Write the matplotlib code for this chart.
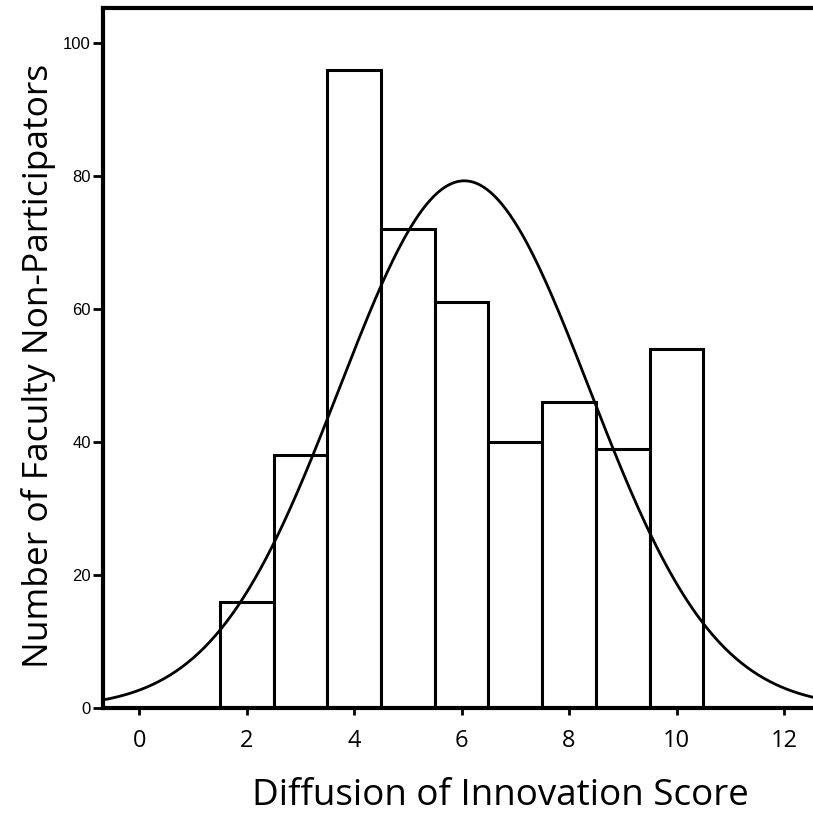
import numpy as np
import matplotlib
matplotlib.use('Agg')
import matplotlib.pyplot as plt


# histogram of scores (bin centres and counts)
scores = [2, 3, 4, 5, 6, 7, 8, 9, 10]
counts = [16, 38, 96, 72, 61, 40, 46, 39, 54]

x_ticks = [0, 2, 4, 6, 8, 10, 12]
y_ticks = [0, 20, 40, 60, 80, 100]

LABEL_FONT = ['Open Sans', 'DejaVu Sans']
TICK_FONT = ['Liberation Sans Narrow', 'Liberation Sans', 'DejaVu Sans']


def normal_fit(scores, counts):
    s = np.array(scores, dtype=float)
    c = np.array(counts, dtype=float)
    n = c.sum()
    mu = (s * c).sum() / n
    sd = np.sqrt((c * (s - mu) ** 2).sum() / (n - 1))
    return n, mu, sd


fig = plt.figure(figsize=(8.13, 8.18), dpi=100)
ax = fig.add_axes([0.127, 0.1345, 0.873, 0.856])

ax.bar(scores, counts, width=1.0, facecolor='white', edgecolor='black',
       linewidth=2.2, zorder=2)

n, mu, sd = normal_fit(scores, counts)
xs = np.linspace(-1, 13, 400)
ys = n * np.exp(-0.5 * ((xs - mu) / sd) ** 2) / (sd * np.sqrt(2 * np.pi))
ax.plot(xs, ys, color='black', linewidth=2.0, zorder=3)

ax.set_xlim(-0.67, 12.54)
ax.set_ylim(0, 105.3)

ax.spines['right'].set_visible(False)
for side in ['left', 'bottom', 'top']:
    ax.spines[side].set_linewidth(3)

ax.set_xticks(x_ticks)
ax.set_yticks(y_ticks)
ax.tick_params(axis='x', length=5, width=2, pad=10)
ax.tick_params(axis='y', length=7, width=2, pad=2)
for lbl in ax.get_xticklabels():
    lbl.set_family(LABEL_FONT)
    lbl.set_fontsize(17)
for lbl in ax.get_yticklabels():
    lbl.set_family(TICK_FONT)
    lbl.set_fontsize(12)

# the label sits right of the visible axes centre in the original
ax.set_xlabel('Diffusion of Innovation Score', family=LABEL_FONT,
              fontsize=26.5, labelpad=18, x=0.56)
ax.set_ylabel('Number of Faculty Non-Participators', family=LABEL_FONT,
              fontsize=25.5, labelpad=5, y=0.489)

fig.savefig('out.png', dpi=100)
